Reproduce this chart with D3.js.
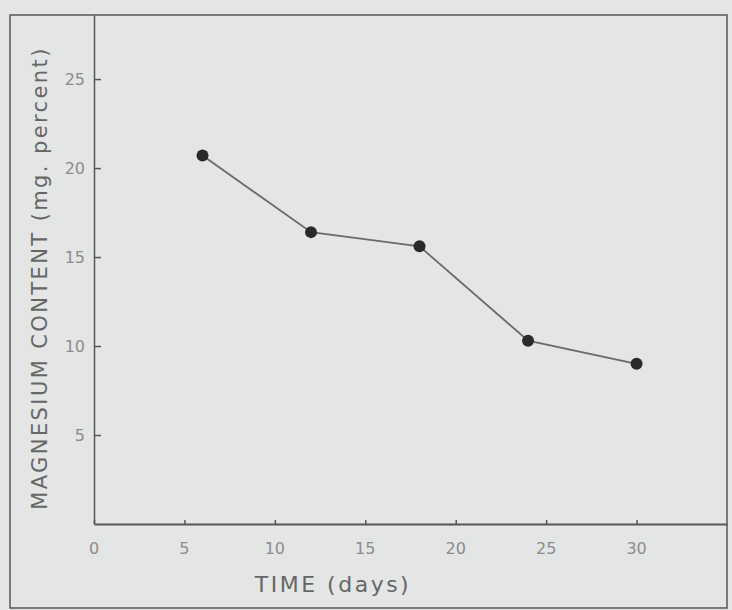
<!DOCTYPE html>
<html>
<head>
<meta charset="utf-8">
<script src="https://cdn.jsdelivr.net/npm/d3@7"></script>
<style>
  body { margin: 0; background: #e4e6e5; }
  svg { display: block; }
</style>
</head>
<body>
<svg id="chart" width="732" height="610"></svg>
<script>
// magnesium content over time
var days = [6, 12, 18, 24, 30];
var magnesium = [20.7, 16.4, 15.6, 10.3, 9.0];
var xTicks = [0, 5, 10, 15, 20, 25, 30];
var yTicks = [5, 10, 15, 20, 25];

var svg = d3.select("#chart");

var x = d3.scaleLinear().domain([0, 35]).range([94, 727]);
var y = d3.scaleLinear().domain([0, 28.6]).range([524, 15]);

// outer frame
svg.append("rect")
   .attr("x", 10).attr("y", 15)
   .attr("width", 717).attr("height", 593)
   .attr("fill", "none")
   .attr("stroke", "#555")
   .attr("stroke-width", 1.5);

// x axis
var xAxis = svg.append("g")
   .attr("transform", "translate(0," + y(0) + ")")
   .call(d3.axisTop(x).tickValues(xTicks).tickSize(4).tickSizeOuter(0).tickFormat(""));
xAxis.select(".domain").attr("stroke", "#555").attr("stroke-width", 1.8);
xAxis.selectAll(".tick line").attr("stroke", "#555").attr("stroke-width", 1.5);

svg.append("g").selectAll("text")
   .data(xTicks)
   .enter().append("text")
   .attr("x", function(d) { return x(d); })
   .attr("y", 554)
   .attr("text-anchor", "middle")
   .attr("font-family", "DejaVu Sans")
   .attr("font-size", "16px")
   .attr("fill", "#8c8c8c")
   .text(function(d) { return d; });

// y axis
var yAxis = svg.append("g")
   .attr("transform", "translate(" + x(0) + ",0)")
   .call(d3.axisRight(y).tickValues(yTicks).tickSize(7).tickSizeOuter(0).tickFormat(""));
yAxis.select(".domain").attr("stroke", "#555").attr("stroke-width", 1.5);
yAxis.selectAll(".tick line").attr("stroke", "#555").attr("stroke-width", 1.5);

svg.append("g").selectAll("text")
   .data(yTicks)
   .enter().append("text")
   .attr("x", 85)
   .attr("y", function(d) { return y(d) + 6; })
   .attr("text-anchor", "end")
   .attr("font-family", "DejaVu Sans")
   .attr("font-size", "16px")
   .attr("fill", "#8c8c8c")
   .text(function(d) { return d; });

// axis titles
svg.append("text")
   .attr("x", 333)
   .attr("y", 592)
   .attr("text-anchor", "middle")
   .attr("font-family", "DejaVu Sans")
   .attr("font-size", "22px")
   .attr("letter-spacing", "2.5px")
   .attr("fill", "#666")
   .text("TIME (days)");

svg.append("text")
   .attr("transform", "translate(47,278) rotate(-90)")
   .attr("text-anchor", "middle")
   .attr("font-family", "DejaVu Sans")
   .attr("font-size", "21px")
   .attr("letter-spacing", "2.4px")
   .attr("fill", "#666")
   .text("MAGNESIUM CONTENT (mg. percent)");

// data line and points
var pts = days.map(function(d, i) { return [d, magnesium[i]]; });

svg.append("path")
   .datum(pts)
   .attr("fill", "none")
   .attr("stroke", "#6a6a6a")
   .attr("stroke-width", 1.8)
   .attr("d", d3.line()
       .x(function(d) { return x(d[0]); })
       .y(function(d) { return y(d[1]); }));

svg.selectAll(".dot")
   .data(pts)
   .enter().append("circle")
   .attr("class", "dot")
   .attr("cx", function(d) { return x(d[0]); })
   .attr("cy", function(d) { return y(d[1]); })
   .attr("r", 6)
   .attr("fill", "#2a2a2a");
</script>
</body>
</html>
